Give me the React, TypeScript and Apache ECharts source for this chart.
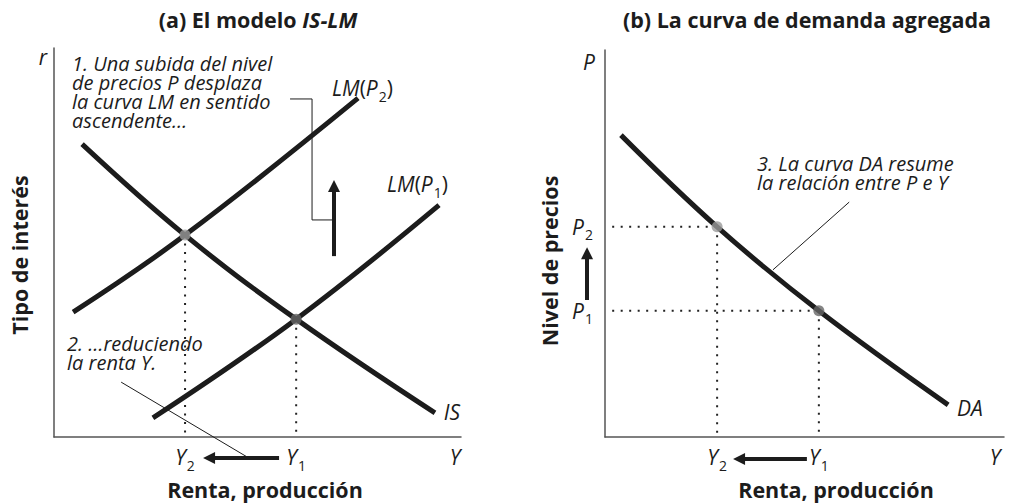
import React, { useEffect, useRef } from "react";
import * as echarts from "echarts";

// ---- Data (abstract units 0..100 on each axis) ----
// Panel (a): IS-LM
const isY = [6.9, 32.2, 59.5, 93.6];
const isR = [75.3, 51.9, 30.3, 6.2];
const lm2Y = [4.7, 32.2, 74.7];
const lm2R = [32.1, 51.9, 87.1];
const lm1Y = [24.3, 59.5, 94.6];
const lm1R = [4.9, 30.3, 59.6];
const eqY = [32.2, 59.5]; // Y2, Y1
const eqR = [51.9, 30.3];
const eqColors = ["#9a9a9a", "#666666"];
const xLabelsA = ["2", "1"];

// Panel (b): DA
const daY = [4.0, 28.1, 53.6, 86.0];
const daP = [78.0, 54.3, 32.6, 8.3];
const adY = [28.1, 53.6]; // Y2, Y1
const adP = [54.3, 32.6]; // P2, P1
const pLabels = ["2", "1"];

// annotation arrows / leader lines (data units)
const shiftArrowA = [[55.3, -5.4], [38.1, -5.4]];
const upArrowA = [[68.8, 46.5], [68.8, 64.5]];
const leader1 = [[58.0, 86.9], [63.4, 86.9], [63.4, 55.8], [68.6, 55.8]];
const leader2 = [[16.5, 14.1], [47.4, -5.1]];
const shiftArrowB = [[50.6, -5.7], [33.6, -5.7]];
const upArrowB = [[-4.5, 35.4], [-4.5, 47.5]];
const leader3 = [[42.1, 43.2], [61.2, 60.7]];

const note1 = ["1. Una subida del nivel", "de precios P desplaza", "la curva LM en sentido", "ascendente…"];
const note2 = ["2. …reduciendo", "la renta Y."];
const note3 = ["3. La curva DA resume", "la relación entre P e Y"];

const FONT = "'Open Sans', Lato, sans-serif";
const INK = "#1c1c1c";

const subRich = {
  v: { fontFamily: FONT, fontStyle: "italic", fontSize: 21, lineHeight: 30, color: INK, verticalAlign: "middle" },
  s: { fontFamily: FONT, fontSize: 14, lineHeight: 14, color: INK, verticalAlign: "bottom", padding: [0, 0, 0, 1] },
};

export default function App() {
  const ref = useRef<HTMLDivElement>(null);
  useEffect(() => {
    if (!ref.current) return;
    const chart = echarts.init(ref.current, null, { renderer: "svg" });

    const curve = (name: string, xs: number[], ys: number[], gi: number) => ({
      type: "line",
      name,
      xAxisIndex: gi,
      yAxisIndex: gi,
      data: xs.map((x, i) => [x, ys[i]]),
      smooth: 0.4,
      symbol: "none",
      lineStyle: { color: INK, width: 5 },
      silent: true,
      z: 3,
    });
    const thin = (pts: number[][], gi: number) => ({
      type: "line",
      xAxisIndex: gi,
      yAxisIndex: gi,
      data: pts,
      symbol: "none",
      clip: false,
      lineStyle: { color: INK, width: 1 },
      silent: true,
      z: 2,
    });
    const dotted = (pts: number[][], gi: number) => ({
      type: "line",
      xAxisIndex: gi,
      yAxisIndex: gi,
      data: pts,
      symbol: "none",
      lineStyle: { color: "#222", width: 2, type: [2, 6.5] },
      silent: true,
      z: 2,
    });
    const arrow = (pts: number[][], gi: number) => ({
      type: "lines",
      coordinateSystem: "cartesian2d",
      xAxisIndex: gi,
      yAxisIndex: gi,
      symbol: ["none", "triangle"],
      symbolSize: [12, 12],
      clip: false,
      silent: true,
      lineStyle: { color: INK, width: 4, opacity: 1, curveness: 0 },
      itemStyle: { color: INK },
      data: [{ coords: pts }],
      z: 4,
    });

    const axisLine = { show: true, lineStyle: { color: "#555", width: 1.5 } };
    const boldText = { fontFamily: FONT, fontWeight: "bold", fontSize: 21.5, fill: INK };
    const noteText = { fontFamily: FONT, fontStyle: "italic", fontSize: 20, fill: INK };

    const noteLines = (lines: string[], x: number, y0: number) =>
      lines.map((t, i) => ({
        type: "text",
        x,
        y: y0 + i * 19.3,
        style: { text: t, align: "left", verticalAlign: "middle", lineHeight: 19, ...noteText },
      }));

    const option: any = {
      animation: false,
      backgroundColor: "#ffffff",
      grid: [
        { left: 54, top: 48, width: 407, height: 389 },
        { left: 605, top: 50, width: 399, height: 387 },
      ],
      xAxis: [0, 1].map((gi) => ({
        type: "value",
        gridIndex: gi,
        min: 0,
        max: 100,
        axisLine,
        axisTick: { show: false },
        splitLine: { show: false },
        axisLabel: {
          customValues: gi === 0 ? eqY : adY,
          margin: 5,
          formatter: (v: number) => {
            const arr = gi === 0 ? eqY : adY;
            const i = arr.indexOf(v);
            return "{v|Y}{s|" + xLabelsA[i] + "}";
          },
          rich: subRich,
        },
      })),
      yAxis: [0, 1].map((gi) => ({
        type: "value",
        gridIndex: gi,
        min: 0,
        max: 100,
        axisLine,
        axisTick: { show: false },
        splitLine: { show: false },
        axisLabel:
          gi === 0
            ? { show: false }
            : {
                customValues: adP,
                margin: 12,
                formatter: (v: number) => "{v|P}{s|" + pLabels[adP.indexOf(v)] + "}",
                rich: subRich,
              },
      })),
      series: [
        // dotted guides
        ...eqY.map((y, i) => dotted([[y, eqR[i]], [y, 0.8]], 0)),
        ...adY.map((y, i) => dotted([[1.8, adP[i]], [y, adP[i]]], 1)),
        ...adY.map((y, i) => dotted([[y, adP[i]], [y, 0.8]], 1)),
        // curves
        curve("IS", isY, isR, 0),
        curve("LM(P2)", lm2Y, lm2R, 0),
        curve("LM(P1)", lm1Y, lm1R, 0),
        curve("DA", daY, daP, 1),
        // leader lines
        thin(leader1, 0),
        thin(leader2, 0),
        thin(leader3, 1),
        // arrows
        arrow(shiftArrowA, 0),
        arrow(upArrowA, 0),
        arrow(shiftArrowB, 1),
        arrow(upArrowB, 1),
        // equilibrium points
        {
          type: "scatter",
          xAxisIndex: 0,
          yAxisIndex: 0,
          symbolSize: 11,
          data: eqY.map((y, i) => ({ value: [y, eqR[i]], itemStyle: { color: eqColors[i] } })),
          silent: true,
          z: 6,
        },
        {
          type: "scatter",
          xAxisIndex: 1,
          yAxisIndex: 1,
          symbolSize: 11,
          data: adY.map((y, i) => ({ value: [y, adP[i]], itemStyle: { color: eqColors[i] } })),
          silent: true,
          z: 6,
        },
      ],
      graphic: [
        // titles
        {
          type: "text",
          x: 258,
          y: 19,
          style: {
            text: "{b|(a) El modelo }{bi|IS-LM}",
            align: "center",
            verticalAlign: "middle",
            rich: {
              b: { ...boldText },
              bi: { ...boldText, fontStyle: "italic" },
            },
          },
        },
        {
          type: "text",
          x: 807,
          y: 19,
          style: { text: "(b) La curva de demanda agregada", align: "center", verticalAlign: "middle", ...boldText },
        },
        // axis titles
        {
          type: "text",
          x: 19,
          y: 255,
          rotation: Math.PI / 2,
          style: { text: "Tipo de interés", align: "center", verticalAlign: "middle", ...boldText },
        },
        {
          type: "text",
          x: 549,
          y: 261,
          rotation: Math.PI / 2,
          style: { text: "Nivel de precios", align: "center", verticalAlign: "middle", ...boldText },
        },
        {
          type: "text",
          x: 265,
          y: 489,
          style: { text: "Renta, producción", align: "center", verticalAlign: "middle", ...boldText },
        },
        {
          type: "text",
          x: 836,
          y: 489,
          style: { text: "Renta, producción", align: "center", verticalAlign: "middle", ...boldText },
        },
        // axis end letters / curve names
        ...[
          ["r", 43, 57],
          ["Y", 455, 457],
          ["P", 589, 62],
          ["Y", 995, 457],
          ["IS", 452, 412],
          ["DA", 970, 408],
        ].map(([t, x, y]) => ({
          type: "text",
          x: x as number,
          y: y as number,
          style: { text: t as string, align: "center", verticalAlign: "middle", fontFamily: FONT, fontStyle: "italic", fontSize: 21, fill: INK },
        })),
        // curve labels LM(P)
        ...[
          ["2", 332, 88],
          ["1", 387, 184],
        ].map(([s, x, y]) => ({
          type: "text",
          x: x as number,
          y: y as number,
          style: {
            text: "{v|LM}{p|(}{v|P}{s|" + s + "}{p|)}",
            align: "left",
            verticalAlign: "middle",
            rich: {
              v: { fontFamily: FONT, fontStyle: "italic", fontSize: 21, lineHeight: 30, fill: INK, verticalAlign: "middle" },
              p: { fontFamily: FONT, fontSize: 21, lineHeight: 30, fill: INK, verticalAlign: "middle" },
              s: { fontFamily: FONT, fontSize: 14, lineHeight: 14, fill: INK, verticalAlign: "bottom", padding: [0, 0, 0, 1] },
            },
          },
        })),
        // annotations
        ...noteLines(note1, 72, 63),
        ...noteLines(note2, 67, 343),
        ...noteLines(note3, 757, 163),
      ],
    };
    chart.setOption(option);
    return () => chart.dispose();
  }, []);
  return (
    <div
      ref={ref}
      style={{ position: "fixed", left: 0, top: 0, width: 1012, height: 504, background: "#fff" }}
    />
  );
}
